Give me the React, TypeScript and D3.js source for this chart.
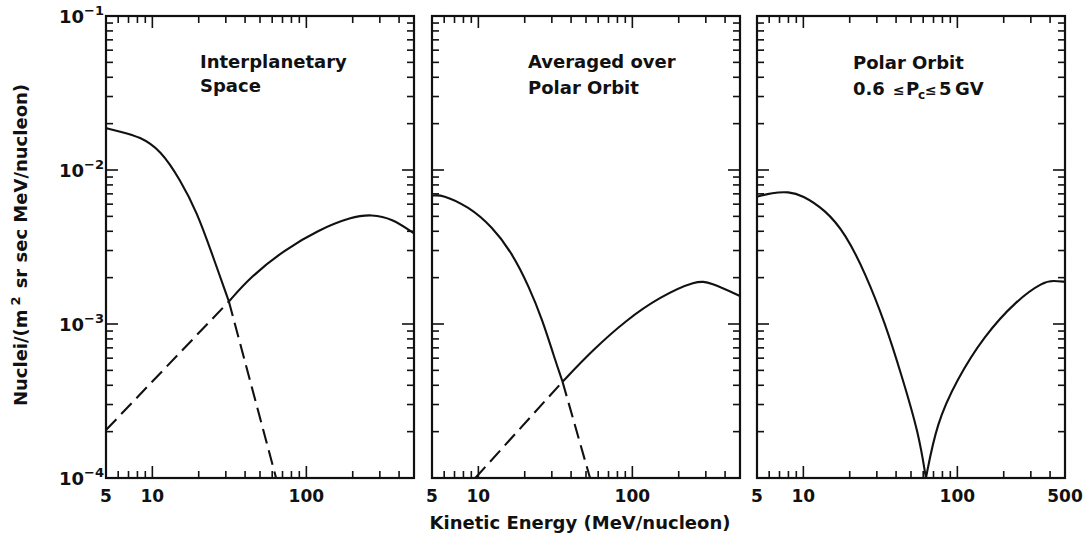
import React from "react";
import * as d3 from "d3";

// ---- data ----
const xDomain: [number, number] = [5, 500];
const yDomain: [number, number] = [1e-4, 1e-1];
const yTickExps = [-1, -2, -3, -4];
const xTickLabels = [5, 10, 100];
const xTickLabelsLast = [5, 10, 100, 500];

// Panel 1: Interplanetary Space
const p1LowE = [5, 6.2, 8.3, 11.3, 15.2, 19.6, 23.9, 31.4];
const p1LowV = [0.0187, 0.01774, 0.01645, 0.01349, 0.00861, 0.00524, 0.00303, 0.0014];
const p1LowDashE = [31.4, 63.6];
const p1LowDashV = [0.0014, 1e-4];
const p1HighDashE = [5, 31.4];
const p1HighDashV = [2.05e-4, 0.0014];
const p1HighE = [31.4, 43.6, 72.1, 119, 197, 266, 359, 500];
const p1HighV = [0.0014, 0.00203, 0.00303, 0.00407, 0.00497, 0.00515, 0.00485, 0.00388];

// Panel 2: Averaged over Polar Orbit
const p2LowE = [5, 5.8, 8.66, 12.3, 16.6, 21.3, 26.1, 31.0, 35.2];
const p2LowV = [0.0068, 0.00695, 0.00578, 0.00428, 0.00288, 0.00175, 0.00106, 0.000614, 0.000422];
const p2LowDashE = [35.2, 53.1];
const p2LowDashV = [0.000422, 1e-4];
const p2HighDashE = [9.55, 35.2];
const p2HighDashV = [1e-4, 0.000422];
const p2HighE = [35.2, 55.3, 91.2, 150.7, 262, 320, 500];
const p2HighV = [0.000422, 0.000678, 0.00106, 0.0015, 0.00193, 0.00186, 0.00152];

// Panel 3: Polar Orbit 0.6 <= Pc <= 5 GV
const p3LowE = [5, 6.26, 8.03, 9.8, 13.9, 18.7, 25.3, 34, 43.7, 56.1, 62.5];
const p3LowV = [0.00671, 0.00712, 0.00723, 0.00688, 0.0055, 0.00388, 0.00213, 0.00101, 0.000455, 0.000195, 1e-4];
const p3HighE = [62.5, 73.4, 99, 147.6, 243, 362, 420, 500];
const p3HighV = [1e-4, 0.000227, 0.000433, 0.000826, 0.00143, 0.00188, 0.00191, 0.00188];

type Series = { e: number[]; v: number[]; dashed: boolean };

const panels: { left: number; series: Series[]; xlabels: number[] }[] = [
  {
    left: 106,
    xlabels: xTickLabels,
    series: [
      { e: p1LowE, v: p1LowV, dashed: false },
      { e: p1LowDashE, v: p1LowDashV, dashed: true },
      { e: p1HighDashE, v: p1HighDashV, dashed: true },
      { e: p1HighE, v: p1HighV, dashed: false },
    ],
  },
  {
    left: 432,
    xlabels: xTickLabels,
    series: [
      { e: p2LowE, v: p2LowV, dashed: false },
      { e: p2LowDashE, v: p2LowDashV, dashed: true },
      { e: p2HighDashE, v: p2HighDashV, dashed: true },
      { e: p2HighE, v: p2HighV, dashed: false },
    ],
  },
  {
    left: 757,
    xlabels: xTickLabelsLast,
    series: [
      { e: p3LowE, v: p3LowV, dashed: false },
      { e: p3HighE, v: p3HighV, dashed: false },
    ],
  },
];

const PW = 308;
const TOP = 16;
const BOTTOM = 478;
const FONT = "'DejaVu Sans', 'Liberation Sans', Arial, sans-serif";
const INK = "#111";

function Panel({ left, series, xlabels, showY }: { left: number; series: Series[]; xlabels: number[]; showY: boolean }) {
  const x = d3.scaleLog().domain(xDomain).range([left, left + PW]);
  const y = d3.scaleLog().domain(yDomain).range([BOTTOM, TOP]);
  const xt = x.ticks();
  const yt = y.ticks();
  const isMajor = (v: number) => Math.abs(Math.log10(v) - Math.round(Math.log10(v))) < 1e-6;
  const line = d3
    .line<[number, number]>()
    .x((d) => x(d[0]))
    .y((d) => y(d[1]))
    .curve(d3.curveBasis);
  const right = left + PW;
  return (
    <g>
      {series.map((s, i) => (
        <path
          key={i}
          d={line(s.e.map((e, j) => [e, s.v[j]] as [number, number])) || ""}
          fill="none"
          stroke={INK}
          strokeWidth={2.1}
          strokeDasharray={s.dashed ? "15 7" : undefined}
        />
      ))}
      <rect x={left} y={TOP} width={PW} height={BOTTOM - TOP} fill="none" stroke={INK} strokeWidth={2.2} />
      {xt.map((t, i) => {
        const len = isMajor(t) ? 12 : 7;
        return (
          <g key={"x" + i}>
            <line x1={x(t)} x2={x(t)} y1={BOTTOM} y2={BOTTOM - len} stroke={INK} strokeWidth={1.6} />
            <line x1={x(t)} x2={x(t)} y1={TOP} y2={TOP + len} stroke={INK} strokeWidth={1.6} />
          </g>
        );
      })}
      {yt.map((t, i) => {
        const len = isMajor(t) ? 12 : 7;
        return (
          <g key={"y" + i}>
            <line x1={left} x2={left + len} y1={y(t)} y2={y(t)} stroke={INK} strokeWidth={1.6} />
            <line x1={right} x2={right - len} y1={y(t)} y2={y(t)} stroke={INK} strokeWidth={1.6} />
          </g>
        );
      })}
      {xlabels.map((t, i) => (
        <text key={"xl" + i} x={x(t)} y={BOTTOM + 24} textAnchor="middle" fontSize={17} fontWeight="bold" fill={INK}>
          {t}
        </text>
      ))}
      {showY &&
        yTickExps.map((ex, i) => (
          <text key={"yl" + i} x={left - 2} y={y(Math.pow(10, ex)) + 7} textAnchor="end" fill={INK} fontWeight="bold">
            <tspan fontSize={18}>10</tspan>
            <tspan fontSize={13} dy={-8}>{"\u2212" + -ex}</tspan>
          </text>
        ))}
    </g>
  );
}

export default function App() {
  return (
    <svg
      width={1084}
      height={544}
      style={{ position: "absolute", left: 0, top: 0, background: "#fff", fontFamily: FONT }}
    >
      <rect width={1084} height={544} fill="#fff" />
      {panels.map((p, i) => (
        <Panel key={i} left={p.left} series={p.series} xlabels={p.xlabels} showY={i === 0} />
      ))}
      {/* panel titles */}
      <g fontSize={18} fill={INK} fontWeight="bold">
        <text x={200} y={68}>Interplanetary</text>
        <text x={200} y={92}>Space</text>
        <text x={528} y={68}>Averaged over</text>
        <text x={528} y={94}>Polar Orbit</text>
        <text x={853} y={69}>Polar Orbit</text>
        <text y={95}>
          <tspan x={853}>0.6</tspan>
          <tspan x={893} fontSize={14}>{"\u2264"}</tspan>
          <tspan x={906}>P</tspan>
          <tspan x={918} fontSize={12} dy={4}>c</tspan>
          <tspan x={925} fontSize={14} dy={-4}>{"\u2264"}</tspan>
          <tspan x={939}>5</tspan>
          <tspan x={955}>GV</tspan>
        </text>
      </g>
      {/* axis titles */}
      <text x={580} y={529} textAnchor="middle" fontSize={18} fontWeight="bold" fill={INK}>
        Kinetic Energy (MeV/nucleon)
      </text>
      <text transform="translate(27,245) rotate(-90)" textAnchor="middle" fontSize={18} fontWeight="bold" fill={INK}>
        <tspan>Nuclei/(m</tspan>
        <tspan fontSize={13} dy={-7} dx={4}>2</tspan>
        <tspan dy={7} dx={8}>sr sec MeV/nucleon)</tspan>
      </text>
    </svg>
  );
}
